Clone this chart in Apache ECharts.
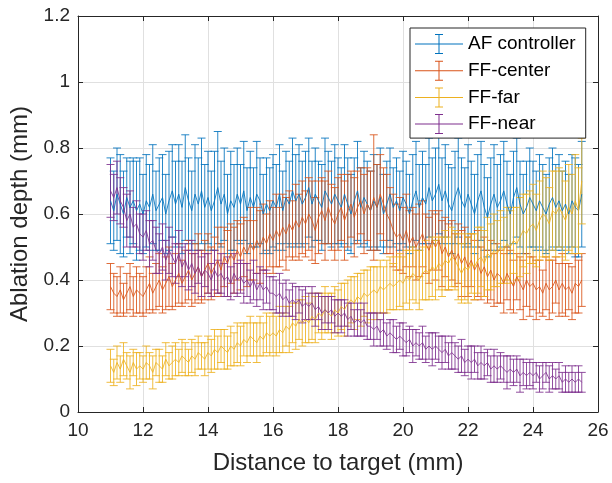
<!DOCTYPE html>
<html><head><meta charset="utf-8">
<script src="https://cdn.jsdelivr.net/npm/echarts@6/dist/echarts.min.js"></script>
<style>html,body{margin:0;padding:0;background:#fff}#c{width:612px;height:483px}</style>
</head><body><div id="c"></div>
<script>
var xs = [11.0,11.1,11.2,11.3,11.4,11.5,11.6,11.7,11.8,11.9,
12.0,12.1,12.2,12.3,12.4,12.5,12.6,12.7,12.8,12.9,
13.0,13.1,13.2,13.3,13.4,13.5,13.6,13.7,13.8,13.9,
14.0,14.1,14.2,14.3,14.4,14.5,14.6,14.7,14.8,14.9,
15.0,15.1,15.2,15.3,15.4,15.5,15.6,15.7,15.8,15.9,
16.0,16.1,16.2,16.3,16.4,16.5,16.6,16.7,16.8,16.9,
17.0,17.1,17.2,17.3,17.4,17.5,17.6,17.7,17.8,17.9,
18.0,18.1,18.2,18.3,18.4,18.5,18.6,18.7,18.8,18.9,
19.0,19.1,19.2,19.3,19.4,19.5,19.6,19.7,19.8,19.9,
20.0,20.1,20.2,20.3,20.4,20.5,20.6,20.7,20.8,20.9,
21.0,21.1,21.2,21.3,21.4,21.5,21.6,21.7,21.8,21.9,
22.0,22.1,22.2,22.3,22.4,22.5,22.6,22.7,22.8,22.9,
23.0,23.1,23.2,23.3,23.4,23.5,23.6,23.7,23.8,23.9,
24.0,24.1,24.2,24.3,24.4,24.5,24.6,24.7,24.8,24.9,
25.0,25.1,25.2,25.3,25.4,25.5];

var afMean = [0.64,0.61,0.66,0.63,0.60,0.65,0.62,0.64,0.61,0.63,
0.60,0.64,0.62,0.66,0.61,0.63,0.65,0.60,0.64,0.67,
0.63,0.66,0.62,0.68,0.64,0.61,0.66,0.63,0.67,0.62,
0.65,0.61,0.64,0.68,0.63,0.66,0.60,0.64,0.62,0.66,
0.63,0.67,0.61,0.65,0.62,0.66,0.64,0.60,0.63,0.61,
0.64,0.62,0.66,0.61,0.65,0.63,0.67,0.64,0.66,0.63,
0.65,0.68,0.63,0.66,0.64,0.62,0.67,0.65,0.63,0.66,
0.64,0.62,0.66,0.63,0.60,0.64,0.67,0.62,0.65,0.63,
0.61,0.64,0.62,0.65,0.60,0.63,0.66,0.62,0.64,0.61,
0.65,0.63,0.60,0.64,0.67,0.62,0.65,0.63,0.68,0.64,
0.66,0.69,0.64,0.67,0.63,0.61,0.65,0.68,0.64,0.62,
0.66,0.63,0.60,0.64,0.67,0.62,0.59,0.63,0.66,0.62,
0.64,0.67,0.63,0.60,0.65,0.68,0.63,0.60,0.62,0.65,
0.63,0.61,0.64,0.62,0.60,0.63,0.65,0.62,0.64,0.61,
0.63,0.60,0.64,0.62,0.61,0.66];
var afErr = [0.13,0.12,0.14,0.15,0.13,0.12,0.14,0.13,0.15,0.14,
0.12,0.14,0.13,0.15,0.12,0.14,0.13,0.12,0.15,0.14,
0.13,0.15,0.14,0.16,0.13,0.12,0.15,0.14,0.16,0.13,
0.14,0.12,0.15,0.17,0.13,0.14,0.12,0.15,0.13,0.14,
0.12,0.15,0.13,0.14,0.12,0.16,0.13,0.12,0.14,0.13,
0.14,0.13,0.15,0.12,0.14,0.13,0.16,0.14,0.15,0.13,
0.14,0.15,0.13,0.14,0.12,0.13,0.16,0.14,0.13,0.15,
0.13,0.12,0.15,0.14,0.12,0.13,0.15,0.12,0.14,0.13,
0.12,0.14,0.13,0.15,0.12,0.13,0.14,0.12,0.13,0.12,
0.14,0.13,0.12,0.14,0.15,0.13,0.14,0.12,0.15,0.13,
0.14,0.15,0.13,0.14,0.12,0.13,0.14,0.15,0.13,0.12,
0.15,0.13,0.12,0.14,0.15,0.13,0.12,0.14,0.15,0.13,
0.14,0.15,0.13,0.12,0.14,0.15,0.13,0.12,0.14,0.15,
0.13,0.12,0.14,0.13,0.12,0.14,0.15,0.13,0.14,0.12,
0.13,0.12,0.14,0.15,0.14,0.16];

var centerMean = [0.38,0.36,0.35,0.37,0.34,0.36,0.38,0.35,0.37,0.36,
0.35,0.37,0.39,0.36,0.38,0.40,0.37,0.39,0.41,0.38,
0.40,0.42,0.39,0.41,0.43,0.40,0.42,0.44,0.41,0.43,
0.45,0.42,0.44,0.46,0.43,0.47,0.45,0.48,0.46,0.49,
0.47,0.50,0.48,0.51,0.49,0.52,0.50,0.53,0.51,0.54,
0.52,0.55,0.53,0.56,0.54,0.57,0.55,0.58,0.56,0.59,
0.57,0.60,0.58,0.55,0.59,0.61,0.58,0.62,0.59,0.57,
0.60,0.62,0.58,0.61,0.63,0.59,0.62,0.64,0.60,0.63,
0.61,0.65,0.62,0.66,0.63,0.60,0.58,0.55,0.53,0.54,
0.52,0.55,0.51,0.53,0.50,0.52,0.54,0.51,0.49,0.52,
0.50,0.52,0.48,0.50,0.47,0.49,0.46,0.48,0.45,0.47,
0.44,0.46,0.43,0.45,0.42,0.44,0.41,0.43,0.40,0.42,
0.41,0.39,0.42,0.40,0.38,0.41,0.39,0.37,0.40,0.38,
0.39,0.37,0.38,0.36,0.39,0.37,0.38,0.40,0.37,0.39,
0.37,0.38,0.36,0.39,0.38,0.40];
var centerErr = [0.07,0.06,0.06,0.07,0.05,0.06,0.07,0.06,0.07,0.06,
0.06,0.07,0.08,0.06,0.07,0.08,0.07,0.08,0.09,0.07,
0.08,0.09,0.07,0.08,0.09,0.08,0.09,0.10,0.08,0.09,
0.09,0.08,0.09,0.10,0.08,0.09,0.10,0.09,0.10,0.09,
0.10,0.09,0.10,0.11,0.09,0.10,0.11,0.10,0.09,0.10,
0.10,0.11,0.09,0.10,0.11,0.10,0.09,0.11,0.10,0.11,
0.10,0.11,0.12,0.10,0.11,0.10,0.12,0.11,0.10,0.11,
0.11,0.10,0.12,0.11,0.10,0.12,0.11,0.10,0.12,0.11,
0.12,0.19,0.13,0.12,0.11,0.12,0.10,0.11,0.10,0.11,
0.10,0.11,0.10,0.09,0.10,0.11,0.10,0.09,0.10,0.09,
0.10,0.09,0.10,0.09,0.10,0.09,0.08,0.09,0.10,0.09,
0.09,0.08,0.09,0.10,0.08,0.09,0.08,0.09,0.08,0.09,
0.08,0.09,0.08,0.09,0.08,0.07,0.08,0.09,0.08,0.09,
0.08,0.09,0.08,0.07,0.08,0.09,0.08,0.07,0.08,0.09,
0.08,0.07,0.08,0.09,0.08,0.08];

var farMean = [0.14,0.12,0.15,0.13,0.16,0.14,0.12,0.15,0.13,0.14,
0.13,0.15,0.14,0.12,0.15,0.14,0.13,0.16,0.14,0.15,
0.16,0.15,0.17,0.16,0.15,0.17,0.16,0.18,0.17,0.16,
0.18,0.17,0.19,0.18,0.20,0.19,0.18,0.20,0.19,0.21,
0.20,0.22,0.21,0.23,0.22,0.21,0.23,0.22,0.24,0.23,
0.24,0.23,0.25,0.24,0.26,0.25,0.27,0.26,0.28,0.27,
0.28,0.27,0.29,0.28,0.30,0.29,0.31,0.30,0.29,0.31,
0.30,0.32,0.31,0.33,0.34,0.33,0.35,0.34,0.36,0.35,
0.36,0.37,0.36,0.38,0.37,0.38,0.39,0.38,0.39,0.40,
0.39,0.41,0.40,0.42,0.41,0.40,0.42,0.43,0.42,0.44,
0.43,0.45,0.44,0.46,0.45,0.47,0.46,0.44,0.42,0.44,
0.43,0.45,0.44,0.46,0.47,0.45,0.48,0.47,0.49,0.48,
0.50,0.49,0.51,0.50,0.52,0.51,0.53,0.55,0.54,0.56,
0.57,0.55,0.58,0.60,0.59,0.57,0.61,0.60,0.62,0.60,
0.58,0.62,0.60,0.64,0.61,0.70];
var farErr = [0.05,0.04,0.05,0.04,0.05,0.04,0.05,0.04,0.05,0.04,
0.04,0.05,0.04,0.05,0.04,0.05,0.04,0.05,0.04,0.05,
0.05,0.04,0.05,0.05,0.04,0.05,0.05,0.05,0.04,0.05,
0.05,0.05,0.06,0.05,0.05,0.06,0.05,0.06,0.05,0.06,
0.06,0.05,0.06,0.06,0.05,0.06,0.06,0.05,0.06,0.06,
0.06,0.06,0.07,0.06,0.06,0.07,0.06,0.07,0.06,0.07,
0.07,0.06,0.07,0.07,0.06,0.07,0.07,0.06,0.07,0.07,
0.07,0.07,0.08,0.07,0.07,0.08,0.07,0.08,0.07,0.08,
0.08,0.07,0.08,0.08,0.07,0.08,0.08,0.07,0.08,0.08,
0.08,0.08,0.09,0.08,0.08,0.09,0.08,0.09,0.08,0.09,
0.09,0.08,0.09,0.09,0.08,0.09,0.09,0.10,0.09,0.10,
0.10,0.09,0.10,0.10,0.09,0.10,0.11,0.10,0.11,0.10,
0.11,0.10,0.11,0.11,0.10,0.11,0.12,0.11,0.12,0.11,
0.12,0.11,0.12,0.13,0.12,0.11,0.12,0.13,0.12,0.13,
0.12,0.13,0.12,0.14,0.13,0.13];

var nearMean = [0.67,0.65,0.68,0.64,0.62,0.58,0.60,0.56,0.57,0.54,
0.53,0.55,0.51,0.52,0.49,0.48,0.50,0.46,0.49,0.47,
0.45,0.48,0.44,0.46,0.43,0.45,0.42,0.44,0.41,0.43,
0.42,0.40,0.43,0.41,0.42,0.40,0.41,0.39,0.42,0.40,
0.41,0.39,0.40,0.38,0.40,0.37,0.39,0.37,0.38,0.36,
0.36,0.35,0.36,0.34,0.35,0.33,0.34,0.33,0.34,0.32,
0.33,0.32,0.33,0.31,0.32,0.30,0.31,0.30,0.31,0.29,
0.30,0.29,0.30,0.28,0.29,0.27,0.28,0.27,0.28,0.26,
0.26,0.25,0.26,0.24,0.25,0.23,0.24,0.23,0.22,0.23,
0.22,0.21,0.22,0.20,0.21,0.20,0.21,0.19,0.20,0.19,
0.20,0.19,0.18,0.19,0.17,0.18,0.17,0.16,0.17,0.15,
0.16,0.15,0.16,0.14,0.15,0.14,0.15,0.13,0.14,0.13,
0.14,0.13,0.12,0.13,0.12,0.13,0.11,0.12,0.11,0.12,
0.11,0.12,0.10,0.11,0.12,0.10,0.11,0.10,0.11,0.09,
0.10,0.09,0.10,0.09,0.10,0.09];
var nearErr = [0.08,0.07,0.08,0.07,0.06,0.08,0.07,0.06,0.07,0.06,
0.07,0.06,0.07,0.06,0.07,0.06,0.07,0.06,0.07,0.06,
0.06,0.07,0.06,0.05,0.06,0.07,0.06,0.05,0.06,0.05,
0.06,0.05,0.06,0.05,0.06,0.05,0.06,0.05,0.06,0.05,
0.05,0.06,0.05,0.05,0.06,0.05,0.05,0.06,0.05,0.05,
0.05,0.05,0.06,0.05,0.05,0.04,0.05,0.05,0.04,0.05,
0.05,0.04,0.05,0.05,0.04,0.05,0.04,0.05,0.04,0.05,
0.04,0.05,0.04,0.05,0.04,0.04,0.05,0.04,0.05,0.04,
0.04,0.05,0.04,0.04,0.05,0.04,0.04,0.05,0.04,0.04,
0.05,0.04,0.04,0.05,0.04,0.04,0.05,0.04,0.04,0.05,
0.04,0.04,0.05,0.04,0.04,0.05,0.04,0.04,0.05,0.04,
0.04,0.05,0.04,0.04,0.05,0.04,0.04,0.04,0.05,0.04,
0.04,0.04,0.05,0.04,0.04,0.04,0.05,0.04,0.04,0.04,
0.04,0.03,0.04,0.04,0.03,0.04,0.04,0.03,0.04,0.03,
0.04,0.03,0.04,0.03,0.04,0.03];

var seriesNames = ['AF controller','FF-center','FF-far','FF-near'];
var seriesColors = ['#0072BD','#D95319','#EDB120','#7E2F8E'];
var means = [afMean, centerMean, farMean, nearMean];
var errs = [afErr, centerErr, farErr, nearErr];

var xTicks = [10,12,14,16,18,20,22,24,26];
var yTicks = [0,0.2,0.4,0.6,0.8,1,1.2];

var FONT = 'Liberation Sans, Arial, Helvetica, sans-serif';
var TXT = '#262626';
var legendIcon = 'path://M0,9.5 H48 V10.5 H0 Z M23.5,0 H24.5 V20 H23.5 Z M20,0 H28 V1 H20 Z M20,19 H28 V20 H20 Z';

var series = [];
seriesNames.forEach(function(name, k){
  var col = seriesColors[k];
  var ebData = xs.map(function(x,i){ return [x, means[k][i], errs[k][i]]; });
  var lineData = xs.map(function(x,i){ return [x, means[k][i]]; });
  series.push({
    name: name, type: 'custom', clip: false,
    itemStyle: {color: col},
    encode: {x: 0, y: 1},
    data: ebData,
    renderItem: function(params, api){
      var x = api.value(0), y = api.value(1), e = api.value(2);
      var t = api.coord([x, y + e]), b = api.coord([x, y - e]);
      var w = 4;
      var st = {stroke: col, lineWidth: 1, opacity: 0.85};
      return {type: 'group', children: [
        {type:'line', shape:{x1:t[0], y1:t[1], x2:b[0], y2:b[1]}, style: st},
        {type:'line', shape:{x1:t[0]-w, y1:t[1], x2:t[0]+w, y2:t[1]}, style: st},
        {type:'line', shape:{x1:b[0]-w, y1:b[1], x2:b[0]+w, y2:b[1]}, style: st}
      ]};
    }
  });
  series.push({
    name: name, type: 'line', data: lineData, symbol: 'none',
    itemStyle: {color: col},
    lineStyle: {color: col, width: 1, opacity: 0.85},
    animation: false
  });
});

var chart = echarts.init(document.getElementById('c'), null, {renderer: 'canvas'});
chart.setOption({
  animation: false,
  backgroundColor: '#fff',
  textStyle: {fontFamily: FONT},
  grid: {left: 78, top: 16, right: 14, bottom: 71, containLabel: false},
  legend: {
    orient: 'vertical', left: 410, top: 28,
    data: seriesNames.map(function(n){ return {name: n, icon: legendIcon}; }),
    itemWidth: 48, itemHeight: 20, itemGap: 6.7,
    padding: [6, 10, 4, 5],
    backgroundColor: '#fff', borderColor: TXT, borderWidth: 1, borderRadius: 0,
    textStyle: {fontSize: 19, color: '#000', fontFamily: FONT},
    selectedMode: false
  },
  xAxis: [{
    type: 'value', min: 10, max: 26, interval: 2,
    name: 'Distance to target (mm)', nameLocation: 'middle', nameGap: 39,
    nameTextStyle: {fontSize: 24, color: TXT, fontFamily: FONT},
    axisLine: {onZero: false, lineStyle: {color: TXT, width: 1}},
    axisTick: {inside: true, length: 5, lineStyle: {color: TXT}},
    axisLabel: {fontSize: 19, color: TXT, margin: 9, fontFamily: FONT,
      formatter: function(v){ return xTicks.indexOf(v) >= 0 ? String(v) : ''; }},
    splitLine: {show: true, lineStyle: {color: '#e0e0e0', width: 1}}
  }, {
    type: 'value', min: 10, max: 26, interval: 2, position: 'top',
    axisLine: {onZero: false, lineStyle: {color: TXT, width: 1}},
    axisTick: {inside: true, length: 5, lineStyle: {color: TXT}},
    axisLabel: {show: false}, splitLine: {show: false}
  }],
  yAxis: [{
    type: 'value', min: 0, max: 1.2, interval: 0.2,
    name: 'Ablation depth (mm)', nameLocation: 'middle', nameGap: 43,
    nameTextStyle: {fontSize: 24, color: TXT, fontFamily: FONT},
    axisLine: {show: true, onZero: false, lineStyle: {color: TXT, width: 1}},
    axisTick: {show: true, inside: true, length: 5, lineStyle: {color: TXT}},
    axisLabel: {fontSize: 19, color: TXT, margin: 8, fontFamily: FONT,
      formatter: function(v){ var r = Math.round(v*10)/10; return yTicks.indexOf(r) >= 0 ? String(r) : ''; }},
    splitLine: {show: true, lineStyle: {color: '#e0e0e0', width: 1}}
  }, {
    type: 'value', min: 0, max: 1.2, interval: 0.2, position: 'right',
    axisLine: {show: true, onZero: false, lineStyle: {color: TXT, width: 1}},
    axisTick: {show: true, inside: true, length: 5, lineStyle: {color: TXT}},
    axisLabel: {show: false}, splitLine: {show: false}
  }],
  series: series
});
</script></body></html>
